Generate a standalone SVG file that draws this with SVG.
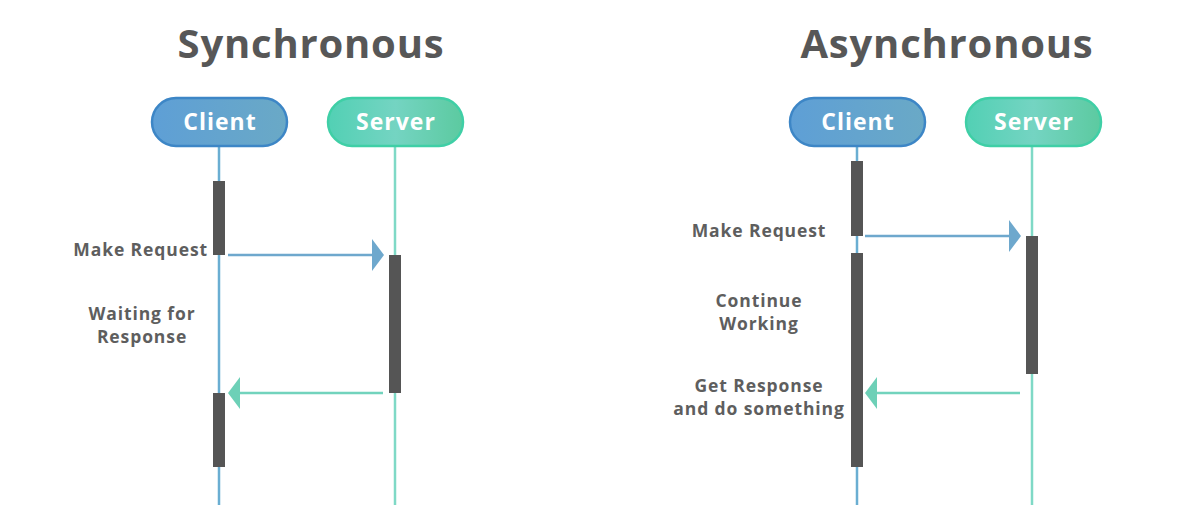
<svg xmlns="http://www.w3.org/2000/svg" width="1192" height="530" viewBox="0 0 1192 530">
  <defs>
    <linearGradient id="gClient" x1="0" y1="0" x2="1" y2="0">
      <stop offset="0" stop-color="#5e9fd6"/>
      <stop offset="1" stop-color="#6aa9c6"/>
    </linearGradient>
    <linearGradient id="gServer" x1="0" y1="0" x2="1" y2="0">
      <stop offset="0" stop-color="#52d0b4"/>
      <stop offset="0.5" stop-color="#74d4c2"/>
      <stop offset="1" stop-color="#5ccaa0"/>
    </linearGradient>
  </defs>
  <style>
    .title { font-family: "Open Sans", "Liberation Sans", sans-serif; font-weight: 700; font-size: 40px; letter-spacing: 0.8px; fill: #575757; text-anchor: middle; }
    .pillText { font-family: "Open Sans", "Liberation Sans", sans-serif; font-weight: 700; font-size: 23px; letter-spacing: 1px; fill: #ffffff; text-anchor: middle; }
    .label { font-family: "Open Sans", "Liberation Sans", sans-serif; font-weight: 700; font-size: 17.5px; letter-spacing: 0.9px; fill: #5e5e5e; }
    .client { fill: url(#gClient); stroke: #3d86c6; stroke-width: 2.5; }
    .server { fill: url(#gServer); stroke: #3fcfa6; stroke-width: 2.5; }
    .lifeC { stroke: #6aaed2; stroke-width: 2.5; }
    .lifeS { stroke: #7fd9c6; stroke-width: 2.5; }
    .bar { fill: #555555; }
    .req { stroke: #6ea8cd; stroke-width: 2.5; fill: none; }
    .reqHead { fill: #6ea8cd; }
    .resp { stroke: #72d3bd; stroke-width: 2.5; fill: none; }
    .respHead { fill: #6dd0b7; }
  </style>
  <rect width="1192" height="530" fill="#ffffff"/>

  <!-- Synchronous -->
  <text class="title" x="311" y="58">Synchronous</text>
  <g id="sync-client">
    <line class="lifeC" x1="219" y1="146" x2="219" y2="505"/>
    <rect class="client" x="152" y="98" width="135" height="48" rx="24"/>
    <text class="pillText" x="220" y="130">Client</text>
  </g>
  <g id="sync-server">
    <line class="lifeS" x1="395" y1="146" x2="395" y2="505"/>
    <rect class="server" x="328" y="98" width="135" height="48" rx="24"/>
    <text class="pillText" x="396" y="130">Server</text>
  </g>
  <g id="sync-bars">
    <rect class="bar" x="213" y="181" width="12" height="74"/>
    <rect class="bar" x="389" y="255" width="12" height="138"/>
    <rect class="bar" x="213" y="393" width="12" height="74"/>
  </g>
  <g id="sync-connectors">
    <line class="req" x1="228" y1="255" x2="373" y2="255"/>
    <polygon class="reqHead" points="372,239 384,255 372,271"/>
    <line class="resp" x1="383" y1="393" x2="238" y2="393"/>
    <polygon class="respHead" points="240,377 228,393 240,409"/>
  </g>
  <g id="sync-labels">
    <text class="label" x="208" y="256" text-anchor="end">Make Request</text>
    <text class="label" x="142" y="320" text-anchor="middle">Waiting for</text>
    <text class="label" x="142" y="343" text-anchor="middle">Response</text>
  </g>

  <!-- Asynchronous -->
  <text class="title" x="947" y="58">Asynchronous</text>
  <g id="async-client">
    <line class="lifeC" x1="857" y1="146" x2="857" y2="505"/>
    <rect class="client" x="790" y="98" width="135" height="48" rx="24"/>
    <text class="pillText" x="858" y="130">Client</text>
  </g>
  <g id="async-server">
    <line class="lifeS" x1="1032" y1="146" x2="1032" y2="505"/>
    <rect class="server" x="966" y="98" width="135" height="48" rx="24"/>
    <text class="pillText" x="1034" y="130">Server</text>
  </g>
  <g id="async-bars">
    <rect class="bar" x="851" y="161" width="12" height="75"/>
    <rect class="bar" x="851" y="253" width="12" height="214"/>
    <rect class="bar" x="1026" y="236" width="12" height="138"/>
  </g>
  <g id="async-connectors">
    <line class="req" x1="865" y1="236" x2="1010" y2="236"/>
    <polygon class="reqHead" points="1009,220 1021,236 1009,252"/>
    <line class="resp" x1="1020" y1="393" x2="876" y2="393"/>
    <polygon class="respHead" points="877,377 865,393 877,409"/>
  </g>
  <g id="async-labels">
    <text class="label" x="759" y="237" text-anchor="middle">Make Request</text>
    <text class="label" x="759" y="307" text-anchor="middle">Continue</text>
    <text class="label" x="759" y="330" text-anchor="middle">Working</text>
    <text class="label" x="759" y="392" text-anchor="middle">Get Response</text>
    <text class="label" x="759" y="415" text-anchor="middle">and do something</text>
  </g>
</svg>
